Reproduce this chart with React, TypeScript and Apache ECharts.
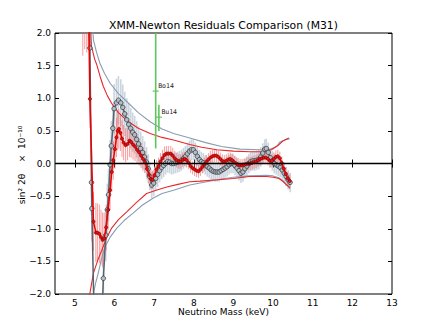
import React, { useEffect, useRef } from "react";
import * as echarts from "echarts";

// [mass keV, value, error]
const redPoints: number[][] = [
  [5.20, 3.2, 1.55], [5.25, 3.0, 1.25], [5.30, 2.9, 1.2], [5.34, 2.7, 0.9],
  [5.38, 0.99, 0.45], [5.47, -0.89, 0.45], [5.53, -1.06, 0.45], [5.57, -1.06, 0.45],
  [5.62, -1.08, 0.45], [5.66, -1.13, 0.42], [5.70, -1.17, 0.42], [5.74, -1.15, 0.4],
  [5.79, -0.98, 0.35], [5.84, -0.71, 0.3], [5.89, -0.41, 0.3], [5.93, -0.13, 0.3],
  [5.97, 0.05, 0.3], [6.01, 0.22, 0.3], [6.05, 0.40, 0.3], [6.08, 0.50, 0.3],
  [6.11, 0.53, 0.3], [6.15, 0.47, 0.28], [6.19, 0.38, 0.28], [6.23, 0.32, 0.27],
  [6.28, 0.28, 0.26], [6.33, 0.30, 0.25], [6.38, 0.35, 0.25], [6.42, 0.33, 0.24],
  [6.47, 0.29, 0.23], [6.52, 0.26, 0.22], [6.57, 0.21, 0.21], [6.62, 0.17, 0.2],
  [6.67, 0.12, 0.19], [6.72, 0.07, 0.18], [6.77, 0.02, 0.17], [6.82, -0.08, 0.16],
  [6.87, -0.17, 0.15], [6.92, -0.24, 0.15], [6.96, -0.25, 0.14], [7.01, -0.18, 0.14],
  [7.06, -0.09, 0.14], [7.11, -0.04, 0.13], [7.16, 0.03, 0.13], [7.21, 0.08, 0.13],
  [7.26, 0.13, 0.13], [7.31, 0.15, 0.12], [7.36, 0.15, 0.12], [7.42, 0.15, 0.12],
  [7.47, 0.12, 0.12], [7.52, 0.08, 0.11], [7.57, 0.05, 0.11], [7.62, 0.03, 0.11],
  [7.67, 0.03, 0.11], [7.72, 0.06, 0.11], [7.77, 0.07, 0.11], [7.82, 0.05, 0.11],
  [7.87, 0.01, 0.1], [7.92, -0.04, 0.1], [7.97, -0.07, 0.1], [8.02, -0.09, 0.1],
  [8.07, -0.11, 0.1], [8.12, -0.12, 0.1], [8.17, -0.09, 0.1], [8.22, -0.05, 0.1],
  [8.27, -0.01, 0.1], [8.32, 0.03, 0.1], [8.37, 0.06, 0.1], [8.42, 0.09, 0.1],
  [8.47, 0.11, 0.1], [8.52, 0.12, 0.1], [8.57, 0.12, 0.1], [8.62, 0.10, 0.1],
  [8.67, 0.07, 0.1], [8.72, 0.04, 0.1], [8.77, 0.03, 0.1], [8.82, 0.04, 0.1],
  [8.87, 0.06, 0.1], [8.92, 0.07, 0.1], [8.97, 0.05, 0.1], [9.02, 0.02, 0.1],
  [9.07, 0.0, 0.1], [9.12, -0.02, 0.1], [9.17, -0.03, 0.1], [9.22, -0.03, 0.1],
  [9.27, -0.02, 0.1], [9.32, -0.01, 0.1], [9.37, 0.0, 0.1], [9.42, 0.0, 0.1],
  [9.47, 0.01, 0.1], [9.52, 0.02, 0.1], [9.57, 0.03, 0.1], [9.62, 0.05, 0.1],
  [9.67, 0.07, 0.1], [9.72, 0.08, 0.1], [9.77, 0.09, 0.1], [9.82, 0.09, 0.1],
  [9.87, 0.07, 0.1], [9.92, 0.04, 0.1], [9.97, 0.04, 0.1], [10.02, 0.07, 0.1],
  [10.07, 0.10, 0.1], [10.12, 0.11, 0.1], [10.17, 0.08, 0.1], [10.22, 0.01, 0.1],
  [10.27, -0.08, 0.1], [10.32, -0.16, 0.1], [10.37, -0.23, 0.1], [10.42, -0.27, 0.1],
];

const grayPoints: number[][] = [
  [5.35, 2.6, 0.6], [5.38, 1.77, 0.5], [5.42, -0.29, 0.5], [5.43, -0.69, 0.5],
  [5.50, -2.8, 0.5], [5.65, -2.9, 0.5], [5.72, -1.76, 0.45], [5.78, -1.10, 0.4],
  [5.82, -0.71, 0.4], [5.85, -0.48, 0.4], [5.89, -0.02, 0.38], [5.92, 0.27, 0.38],
  [5.96, 0.54, 0.38], [5.99, 0.84, 0.38], [6.05, 0.93, 0.37], [6.10, 0.97, 0.37],
  [6.16, 0.93, 0.36], [6.21, 0.86, 0.35], [6.26, 0.76, 0.34], [6.31, 0.67, 0.33],
  [6.36, 0.60, 0.32], [6.41, 0.54, 0.31], [6.46, 0.48, 0.3], [6.51, 0.44, 0.29],
  [6.56, 0.37, 0.28], [6.61, 0.30, 0.27], [6.66, 0.23, 0.26], [6.71, 0.17, 0.25],
  [6.76, 0.10, 0.24], [6.81, 0.02, 0.23], [6.85, -0.08, 0.22], [6.89, -0.20, 0.21],
  [6.94, -0.33, 0.2], [6.99, -0.30, 0.2], [7.04, -0.23, 0.19], [7.09, -0.17, 0.19],
  [7.14, -0.11, 0.18], [7.19, -0.06, 0.18], [7.24, -0.03, 0.18], [7.29, 0.0, 0.17],
  [7.34, 0.03, 0.17], [7.39, 0.02, 0.17], [7.44, 0.0, 0.17], [7.49, 0.0, 0.16],
  [7.54, 0.01, 0.16], [7.59, 0.02, 0.16], [7.64, 0.03, 0.16], [7.69, 0.05, 0.16],
  [7.74, 0.08, 0.16], [7.79, 0.11, 0.16], [7.84, 0.15, 0.16], [7.89, 0.19, 0.16],
  [7.94, 0.21, 0.16], [7.99, 0.21, 0.16], [8.04, 0.17, 0.15], [8.09, 0.11, 0.15],
  [8.14, 0.06, 0.15], [8.19, 0.03, 0.15], [8.24, 0.01, 0.15], [8.29, -0.02, 0.15],
  [8.34, -0.05, 0.15], [8.39, -0.07, 0.15], [8.44, -0.10, 0.15], [8.49, -0.12, 0.15],
  [8.54, -0.13, 0.15], [8.59, -0.13, 0.15], [8.64, -0.13, 0.15], [8.69, -0.11, 0.15],
  [8.74, -0.09, 0.15], [8.79, -0.07, 0.15], [8.84, -0.05, 0.15], [8.89, -0.02, 0.15],
  [8.94, 0.0, 0.15], [8.99, 0.0, 0.15], [9.04, -0.03, 0.15], [9.09, -0.07, 0.15],
  [9.14, -0.11, 0.15], [9.19, -0.15, 0.15], [9.24, -0.13, 0.15], [9.29, -0.08, 0.15],
  [9.34, -0.04, 0.15], [9.39, 0.0, 0.15], [9.44, 0.03, 0.15], [9.49, 0.04, 0.15],
  [9.54, 0.04, 0.15], [9.59, 0.05, 0.15], [9.64, 0.06, 0.15], [9.69, 0.10, 0.15],
  [9.74, 0.16, 0.15], [9.79, 0.22, 0.15], [9.83, 0.23, 0.15], [9.88, 0.17, 0.15],
  [9.93, 0.09, 0.15], [9.98, 0.04, 0.15], [10.03, 0.0, 0.15], [10.08, -0.02, 0.15],
  [10.13, -0.04, 0.15], [10.18, -0.06, 0.15], [10.23, -0.10, 0.15], [10.28, -0.15, 0.15],
  [10.33, -0.20, 0.15], [10.38, -0.25, 0.15], [10.43, -0.29, 0.15],
];

const redUpper: number[][] = [
  [5.38, 2.3], [5.42, 1.8], [5.50, 1.6], [5.55, 1.52], [5.64, 1.33], [5.72, 1.18],
  [5.82, 1.04], [5.93, 0.92], [6.10, 0.78], [6.31, 0.66], [6.60, 0.54], [6.90, 0.46],
  [7.20, 0.40], [7.49, 0.36], [7.90, 0.29], [8.20, 0.25], [8.58, 0.21], [9.00, 0.19],
  [9.42, 0.18], [9.70, 0.18], [9.96, 0.21], [10.13, 0.28], [10.26, 0.35], [10.40, 0.39],
];
const grayUpper: number[][] = [
  [5.42, 2.3], [5.47, 1.89], [5.55, 1.70], [5.63, 1.54], [5.75, 1.38], [5.89, 1.23],
  [6.10, 1.07], [6.31, 0.95], [6.60, 0.78], [6.90, 0.64], [7.20, 0.53], [7.49, 0.46],
  [7.90, 0.39], [8.30, 0.32], [8.70, 0.26], [9.17, 0.22], [9.67, 0.21], [9.90, 0.21],
  [10.09, 0.26], [10.17, 0.33], [10.34, 0.37], [10.42, 0.38],
];
const redLower: number[][] = [
  [5.36, -2.4], [5.38, -1.99], [5.47, -1.68], [5.58, -1.48], [5.68, -1.33], [5.80, -1.14],
  [5.93, -0.99], [6.10, -0.86], [6.31, -0.74], [6.55, -0.60], [6.81, -0.46], [7.05, -0.41],
  [7.32, -0.36], [7.60, -0.32], [7.90, -0.28], [8.16, -0.27], [8.60, -0.25], [9.00, -0.23],
  [9.40, -0.20], [9.84, -0.20], [10.00, -0.21], [10.15, -0.23], [10.26, -0.28],
  [10.35, -0.33], [10.43, -0.38],
];
const grayLower: number[][] = [
  [5.44, -2.4], [5.47, -1.99], [5.53, -1.82], [5.59, -1.68], [5.67, -1.47], [5.76, -1.28],
  [5.90, -1.12], [6.06, -0.99], [6.25, -0.87], [6.47, -0.76], [6.70, -0.64], [6.98, -0.53],
  [7.20, -0.46], [7.49, -0.41], [7.90, -0.33], [8.16, -0.30], [8.60, -0.25], [9.00, -0.21],
  [9.40, -0.19], [9.84, -0.18], [10.00, -0.19], [10.15, -0.22], [10.26, -0.27],
  [10.34, -0.33], [10.43, -0.36],
];

// literature claims: [mass, central, low, high]
const claimNames = ["Bo14", "Bu14"];
const claimPoints: number[][] = [
  [7.04, 1.11, 0.23, 2.6],
  [7.12, 0.71, 0.5, 0.9],
];

const xTicks = [5, 6, 7, 8, 9, 10, 11, 12, 13];

const fmt = (v: number) => (v < 0 ? "\u2212" + Math.abs(v).toFixed(1) : v.toFixed(1));

export default function App() {
  const ref = useRef<HTMLDivElement>(null);
  useEffect(() => {
    document.body.style.margin = "0";
    document.body.style.overflow = "hidden";
    const chart = echarts.init(ref.current!, null, { renderer: "svg" });
    const FONT = "DejaVu Sans";

    const errBar = (color: string, width: number) => (params: any, api: any) => {
      const x = api.value(0);
      const a = api.coord([x, api.value(1)]);
      const b = api.coord([x, api.value(2)]);
      return {
        type: "line",
        shape: { x1: a[0], y1: a[1], x2: b[0], y2: b[1] },
        style: { stroke: color, lineWidth: width },
      };
    };

    const axisCommon = {
      axisLine: { show: false },
      splitLine: { show: false },
      axisTick: { show: true, inside: true, length: 4, lineStyle: { color: "#000", width: 1 } },
    };

    chart.setOption({
      animation: false,
      grid: { left: 55, right: 44, top: 33, bottom: 33, show: true, borderColor: "#000", borderWidth: 1, backgroundColor: "transparent" },
      xAxis: [
        {
          type: "value", min: 4.5, max: 13, position: "bottom", ...axisCommon,
          axisTick: { ...axisCommon.axisTick, customValues: xTicks },
          axisLabel: { customValues: xTicks, fontFamily: FONT, fontSize: 9, color: "#000", margin: 4 },
        },
        {
          type: "value", min: 4.5, max: 13, position: "top", ...axisCommon,
          axisTick: { ...axisCommon.axisTick, customValues: xTicks },
          axisLabel: { show: false },
        },
      ],
      yAxis: [
        {
          type: "value", min: -2, max: 2, interval: 0.5, position: "left", ...axisCommon,
          axisLabel: { formatter: fmt, fontFamily: FONT, fontSize: 9, color: "#000", margin: 4 },
        },
        {
          type: "value", min: -2, max: 2, interval: 0.5, position: "right", ...axisCommon,
          axisLabel: { show: false },
        },
      ],
      graphic: [
        { type: "text", x: 223.5, y: 25, style: { text: "XMM-Newton Residuals Comparison (M31)", fontFamily: FONT, fontSize: 10.8, fill: "#000", textAlign: "center", textVerticalAlign: "middle" } },
        { type: "text", x: 223.5, y: 312, style: { text: "Neutrino Mass (keV)", fontFamily: FONT, fontSize: 9, fill: "#000", textAlign: "center", textVerticalAlign: "middle" } },
        { type: "text", x: 22, y: 165, rotation: Math.PI / 2, style: { text: "sin\u00b2 2\u03b8    \u00d7  10\u207b\u00b9\u2070", fontFamily: FONT, fontSize: 9, fill: "#000", textAlign: "center", textVerticalAlign: "middle" } },
      ],
      series: [
        {
          type: "custom", clip: true, z: 1,
          renderItem: errBar("rgba(160,178,196,0.55)", 1.6),
          encode: { x: 0, y: [1, 2] },
          data: grayPoints.map((p) => [p[0], p[1] - p[2], p[1] + p[2]]),
        },
        {
          type: "custom", clip: true, z: 2,
          renderItem: errBar("rgba(245,90,90,0.55)", 1.1),
          encode: { x: 0, y: [1, 2] },
          data: redPoints.map((p) => [p[0], p[1] - p[2], p[1] + p[2]]),
        },
        ...[
          [grayUpper, "#8a9db0"], [grayLower, "#8a9db0"], [redUpper, "#e8282a"], [redLower, "#e8282a"],
        ].map(([d, c]: any) => ({
          type: "line", data: d, showSymbol: false, clip: true, z: 3,
          lineStyle: { color: c, width: 1.1 },
        })),
        {
          type: "line", data: grayPoints.map((p) => [p[0], p[1]]), clip: true, z: 4,
          symbol: "circle", symbolSize: 4.5, showSymbol: true,
          lineStyle: { color: "#56626e", width: 1.5 },
          itemStyle: { color: "#b0bcc8", borderColor: "#3a3a3a", borderWidth: 0.8 },
        },
        {
          type: "line", data: redPoints.map((p) => [p[0], p[1]]), clip: true, z: 5,
          symbol: "circle", symbolSize: 3.2, showSymbol: true,
          lineStyle: { color: "#ee0000", width: 1.5 },
          itemStyle: { color: "#e81010", borderColor: "#7a0000", borderWidth: 0.6 },
        },
        {
          type: "custom", clip: true, z: 6,
          encode: { x: 0, y: [2, 3] },
          data: claimPoints,
          renderItem: (params: any, api: any) => {
            const x = api.value(0);
            const c = api.coord([x, api.value(1)]);
            const lo = api.coord([x, api.value(2)]);
            const hi = api.coord([x, api.value(3)]);
            return {
              type: "group",
              children: [
                { type: "line", shape: { x1: lo[0], y1: lo[1], x2: hi[0], y2: hi[1] }, style: { stroke: "#5cc85c", lineWidth: 1.6 } },
                { type: "line", shape: { x1: c[0] - 3, y1: c[1], x2: c[0] + 3, y2: c[1] }, style: { stroke: "#5cc85c", lineWidth: 1.2 } },
                { type: "text", x: c[0] + 2.5, y: c[1] - 5, style: { text: claimNames[params.dataIndex], fontFamily: "DejaVu Sans Mono", fontSize: 6.5, fill: "#222", textVerticalAlign: "middle" } },
              ],
            };
          },
        },
        {
          type: "line", data: [[4.5, 0], [13, 0]], showSymbol: false, z: 7,
          lineStyle: { color: "#000", width: 1.4 },
        },
      ],
    });
    return () => chart.dispose();
  }, []);
  return <div ref={ref} style={{ width: 436, height: 327 }} />;
}
